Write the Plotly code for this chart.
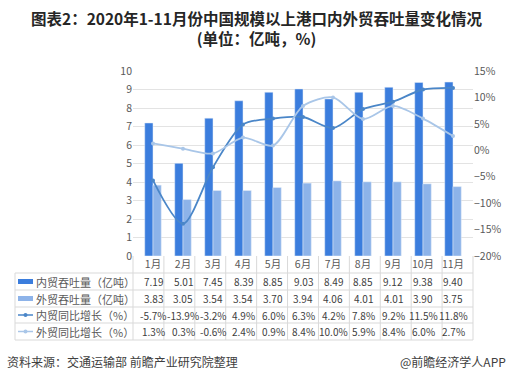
import plotly.graph_objects as go

months = ["1月", "2月", "3月", "4月", "5月", "6月", "7月", "8月", "9月", "10月", "11月"]
domestic = [7.19, 5.01, 7.45, 8.39, 8.85, 9.03, 8.49, 8.85, 9.12, 9.38, 9.40]
foreign = [3.83, 3.05, 3.54, 3.54, 3.70, 3.94, 4.06, 4.01, 4.01, 3.90, 3.75]
domestic_yoy = [-5.7, -13.9, -3.2, 4.9, 6.0, 6.3, 4.2, 7.8, 9.2, 11.5, 11.8]
foreign_yoy = [1.3, 0.3, -0.6, 2.4, 0.9, 8.4, 10.0, 5.9, 8.4, 6.0, 2.7]
row_names = ["内贸吞吐量（亿吨）", "外贸吞吐量（亿吨）", "内贸同比增长（%）", "外贸同比增长（%）"]
title_line1 = "图表2：2020年1-11月份中国规模以上港口内外贸吞吐量变化情况"
title_line2 = "(单位：亿吨，%)"
source_text = "资料来源：交通运输部 前瞻产业研究院整理"
brand_text = "@前瞻经济学人APP"

C_DOM = "#3B7DDD"
C_FOR = "#8DB3E9"
C_DOMY = "#4A86C8"
C_FORY = "#A9C6E8"
FONT = "Noto Sans CJK SC"

W, H = 512, 383
L, R, T, B = 133, 473, 71, 256
PW, PH = R - L, B - T

def px(x):
    return (x - L) / PW

def py(y):
    return (B - y) / PH

fig = go.Figure()
fig.add_trace(go.Bar(x=months, y=domestic, name=row_names[0], marker_color=C_DOM, yaxis="y"))
fig.add_trace(go.Bar(x=months, y=foreign, name=row_names[1], marker_color=C_FOR, yaxis="y"))
fig.add_trace(go.Scatter(x=months, y=domestic_yoy, name=row_names[2], mode="lines+markers",
                         line=dict(color=C_DOMY, width=1.8, shape="spline", smoothing=0.8),
                         marker=dict(size=4, color=C_DOMY), yaxis="y2"))
fig.add_trace(go.Scatter(x=months, y=foreign_yoy, name=row_names[3], mode="lines+markers",
                         line=dict(color=C_FORY, width=1.8, shape="spline", smoothing=0.8),
                         marker=dict(size=4, color=C_FORY), yaxis="y2"))

shapes = []
annotations = []
grid_c = "#D9D9D9"
row_lines = [256, 273, 290, 307, 323, 340]
for yy in row_lines[1:]:
    shapes.append(dict(type="line", xref="paper", yref="paper", x0=px(15), x1=px(473),
                       y0=py(yy), y1=py(yy), line=dict(color=grid_c, width=1)))
for i in range(12):
    xx = L + i * PW / 11
    shapes.append(dict(type="line", xref="paper", yref="paper", x0=px(xx), x1=px(xx),
                       y0=py(256), y1=py(340), line=dict(color=grid_c, width=1)))
shapes.append(dict(type="line", xref="paper", yref="paper", x0=px(15), x1=px(15),
                   y0=py(273), y1=py(340), line=dict(color=grid_c, width=1)))

rows = [domestic, foreign, domestic_yoy, foreign_yoy]
row_c = [281.5, 298.5, 315, 331.5]
for r, (vals, yc) in enumerate(zip(rows, row_c)):
    for m, v in zip(months, vals):
        txt = f"{v:.2f}" if r < 2 else f"{v:.1f}%"
        annotations.append(dict(x=m, xref="x", y=py(yc), yref="paper", text=txt, showarrow=False,
                                xanchor="center", yanchor="middle",
                                font=dict(family=FONT, size=10, color="#404040")))
    annotations.append(dict(x=px(34), xref="paper", y=py(yc), yref="paper", text=row_names[r],
                            xanchor="left", yanchor="middle", showarrow=False,
                            font=dict(family=FONT, size=11, color="#595959")))
for r, c in enumerate([C_DOM, C_FOR]):
    shapes.append(dict(type="rect", xref="paper", yref="paper", x0=px(18), x1=px(33),
                       y0=py(row_c[r] - 2.5), y1=py(row_c[r] + 2.5), fillcolor=c, line=dict(width=0)))
for r, c in [(2, C_DOMY), (3, C_FORY)]:
    shapes.append(dict(type="line", xref="paper", yref="paper", x0=px(18), x1=px(33),
                       y0=py(row_c[r]), y1=py(row_c[r]), line=dict(color=c, width=1.5)))
    shapes.append(dict(type="circle", xref="paper", yref="paper", x0=px(23.5), x1=px(27.5),
                       y0=py(row_c[r] - 2), y1=py(row_c[r] + 2), fillcolor=c, line=dict(width=0)))

annotations.append(dict(x=px(256), xref="paper", y=py(28), yref="paper",
                        text="<b>" + title_line1 + "<br>" + title_line2 + "</b>",
                        showarrow=False, xanchor="center", yanchor="middle",
                        font=dict(family=FONT, size=15.5, color="#262626")))
annotations.append(dict(x=px(5), xref="paper", y=py(361), yref="paper", text=source_text,
                        showarrow=False, xanchor="left", yanchor="middle",
                        font=dict(family=FONT, size=12, color="#404040")))
annotations.append(dict(x=px(508), xref="paper", y=py(361), yref="paper", text=brand_text,
                        showarrow=False, xanchor="right", yanchor="middle",
                        font=dict(family=FONT, size=12, color="#404040")))

fig.update_layout(
    width=W, height=H,
    margin=dict(l=L, r=W - R, t=T, b=H - B, pad=0),
    paper_bgcolor="white", plot_bgcolor="white",
    barmode="group", bargap=0.45, bargroupgap=0,
    showlegend=False,
    font=dict(family=FONT, size=10.5, color="#595959"),
    xaxis=dict(type="category", showgrid=False, showline=False, ticks="", automargin=False,
               tickfont=dict(family=FONT, size=10.5, color="#595959")),
    yaxis=dict(range=[0, 10], dtick=1, showgrid=True, gridcolor="#E3E3E3", zeroline=False,
               automargin=False, tickfont=dict(family=FONT, size=10.5, color="#595959")),
    yaxis2=dict(range=[-20, 15], dtick=5, overlaying="y", side="right", showgrid=False,
                zeroline=False, ticksuffix="%", automargin=False,
                tickfont=dict(family=FONT, size=10.5, color="#595959")),
    shapes=shapes,
    annotations=annotations,
)

fig.write_html("out.html", config={"displayModeBar": False},
               post_script="document.body.style.margin='0';")
